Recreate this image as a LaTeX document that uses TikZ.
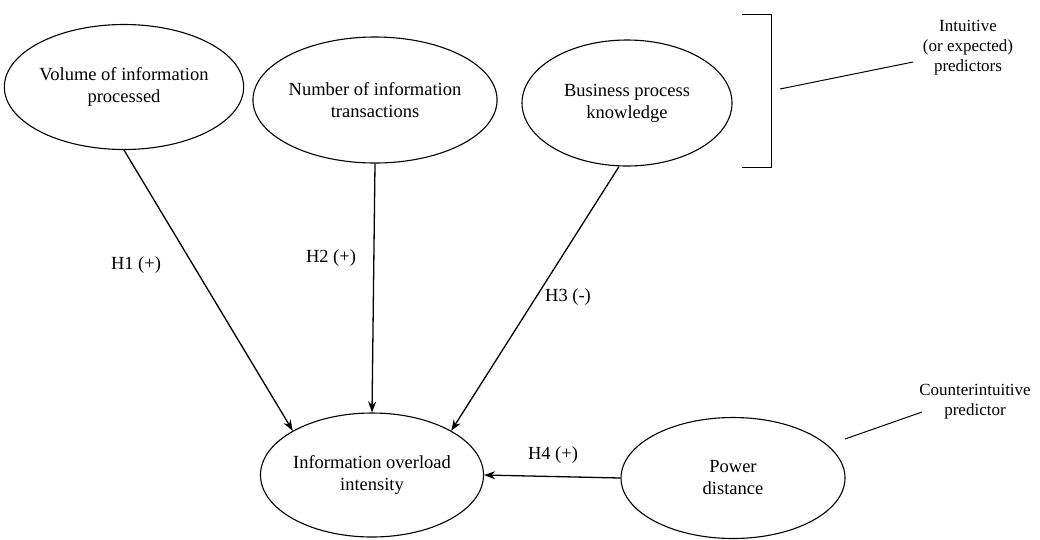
\documentclass[tikz,border=0pt]{standalone}
\usepackage{fontspec}
\setmainfont{Liberation Serif}
\usetikzlibrary{shapes.geometric,arrows.meta}
\begin{document}
\begin{tikzpicture}[x=1pt,y=-1pt,
  oval/.style={draw,ellipse,line width=1.1pt,inner sep=0pt,align=center,font=\fontsize{18.5}{22}\selectfont},
  link/.style={draw,line width=1.3pt,-{Stealth[length=11pt,width=8pt]}},
  lbl/.style={font=\fontsize{18.5}{22}\selectfont},
  note/.style={font=\fontsize{17}{20}\selectfont,align=center},
  thin/.style={draw,line width=1pt}]
\useasboundingbox (0,0) rectangle (1040,539);
\node[oval,minimum width=225pt,minimum height=125pt] (vol) at (124,87) {Volume of information\\processed};
\node[oval,minimum width=225pt,minimum height=126pt] (num) at (375,100) {Number of information\\transactions};
\node[oval,minimum width=210pt,minimum height=126pt] (bus) at (627,103) {Business process\\knowledge};
\node[oval,minimum width=223pt,minimum height=124pt] (info) at (372,475) {Information overload\\intensity};
\node[oval,minimum width=224pt,minimum height=121pt] (pow) at (733,478) {Power\\distance};
\draw[link] (vol.south) -- (info.north west);
\node[lbl] (h1) at (136,265) {H1 (+)};
\draw[link] (num.south) -- (info.north);
\node[lbl] (h2) at (331,258) {H2 (+)};
\draw[link] ([xshift=-8pt]bus.south) -- (info.north east);
\node[lbl] (h3) at (568,297) {H3 (-)};
\draw[link] (pow.west) -- (info.east);
\node[lbl] (h4) at (553,455) {H4 (+)};
\coordinate (bt1) at (742,14);
\coordinate (bt2) at (771,14);
\coordinate (bb2) at (771,167);
\coordinate (bb1) at (742,167);
\draw[thin] (bt1) -- (bt2) -- (bb2) -- (bb1);
\node[note] (intu) at (968,48) {Intuitive\\(or expected)\\predictors};
\coordinate (p1) at (780,89);
\coordinate (p1e) at (913,62);
\draw[thin] (p1) -- (p1e);
\node[note] (cnt) at (975,402) {Counterintuitive\\predictor};
\coordinate (p2) at (845,439);
\coordinate (p2e) at (922,412);
\draw[thin] (p2) -- (p2e);
\end{tikzpicture}
\end{document}
